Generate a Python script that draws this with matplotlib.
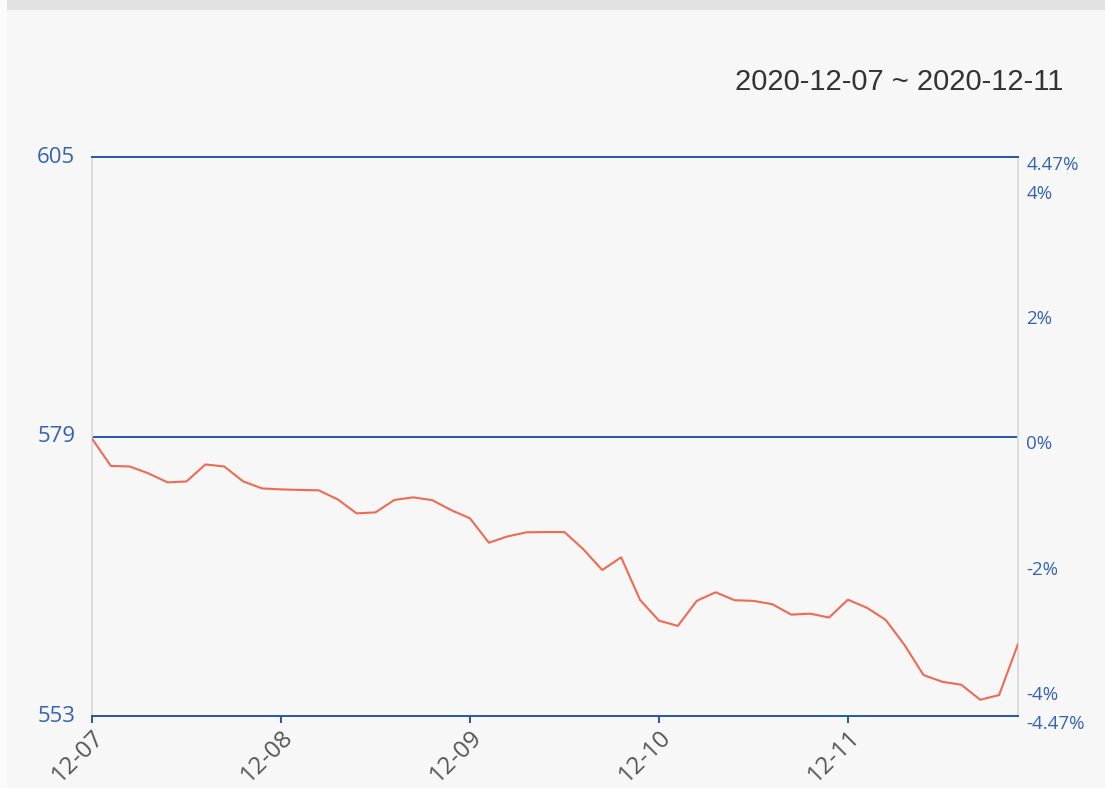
import matplotlib
matplotlib.use("Agg")
import matplotlib.pyplot as plt
from matplotlib.transforms import ScaledTranslation
from matplotlib.patches import Rectangle

# ---- data ----
day_labels = ["12-07", "12-08", "12-09", "12-10", "12-11"]
points_per_day = 10
prices = [578.8, 576.26, 576.21, 575.56, 574.73, 574.82, 576.40, 576.21, 574.82, 574.17,
          574.08, 574.03, 573.99, 573.15, 571.85, 571.94, 573.10, 573.34, 573.08, 572.16,
          571.39, 569.12, 569.71, 570.09, 570.11, 570.11, 568.51, 566.58, 567.76, 563.80,
          561.87, 561.38, 563.71, 564.51, 563.77, 563.71, 563.40, 562.43, 562.52, 562.16,
          563.82, 563.07, 561.94, 559.59, 556.81, 556.18, 555.91, 554.51, 554.95, 559.69]
base_price = 579
price_ticks = [553, 579, 605]
pct_limit = 4.47
pct_ticks = [-4.47, -4, -2, 0, 2, 4, 4.47]
pct_labels = ["-4.47%", "-4%", "-2%", "0%", "2%", "4%", "4.47%"]
title = "2020-12-07 ~ 2020-12-11"

BG = "#f7f7f7"
BLUE = "#2556a8"
LBLUE = "#3563b3"
RED = "#ef6a52"
GRAY = "#dcdcdc"

W, H = 1105, 788
fig = plt.figure(figsize=(W / 100, H / 100), dpi=100, facecolor=BG)
fig.patches.append(Rectangle((0, 0), 7 / W, 1, transform=fig.transFigure,
                             facecolor="#fbfbfb", edgecolor="none", zorder=0))
fig.patches.append(Rectangle((7 / W, 1 - 10 / H), 1, 10 / H, transform=fig.transFigure,
                             facecolor="#e2e2e2", edgecolor="none", zorder=0))

L, R, T, B = 92, 1018, 157, 716
ax = fig.add_axes([L / W, 1 - B / H, (R - L) / W, (B - T) / H])
ax.set_facecolor(BG)

x = list(range(len(prices)))
ax.plot(x, prices, color=RED, lw=1.5, zorder=3)
ax.axhline(base_price, color=BLUE, lw=1.4, zorder=2)

ax.set_xlim(0, len(prices) - 1)
ax.set_ylim(price_ticks[0], price_ticks[-1])

for s in ["top", "bottom"]:
    ax.spines[s].set_color(BLUE)
    ax.spines[s].set_linewidth(1.4)
for s in ["left", "right"]:
    ax.spines[s].set_color(GRAY)
    ax.spines[s].set_linewidth(1.4)

ax.set_xticks([i * points_per_day for i in range(len(day_labels))])
ax.set_xticklabels(day_labels, rotation=45, ha="right", rotation_mode="anchor",
                   color="#555555", fontsize=17.5, family="Open Sans")
ax.tick_params(axis="x", direction="out", length=5, width=1.4, color=BLUE, pad=2)

ax.set_yticks(price_ticks)
ax.set_yticklabels([str(v) for v in price_ticks], color=LBLUE, fontsize=16, family="Open Sans")
ax.tick_params(axis="y", length=0, pad=12)
yoff = ScaledTranslation(0, 2 / 100, fig.dpi_scale_trans)
for lab in ax.get_yticklabels():
    lab.set_transform(lab.get_transform() + yoff)

ax2 = ax.twinx()
ax2.set_ylim(-pct_limit, pct_limit)
ax2.set_yticks(pct_ticks)
ax2.set_yticklabels(pct_labels, color=LBLUE, fontsize=13.5, family="Open Sans")
ax2.tick_params(axis="y", length=0, pad=6)
for s in ax2.spines.values():
    s.set_visible(False)
off = ScaledTranslation(0, -6 / 100, fig.dpi_scale_trans)
for lab in ax2.get_yticklabels():
    lab.set_transform(lab.get_transform() + off)

fig.text(1063 / W, 1 - 82 / H, title, ha="right", va="center", fontsize=21,
         color="#333333", family="Liberation Sans")

fig.savefig("out.png", dpi=100, facecolor=BG)
